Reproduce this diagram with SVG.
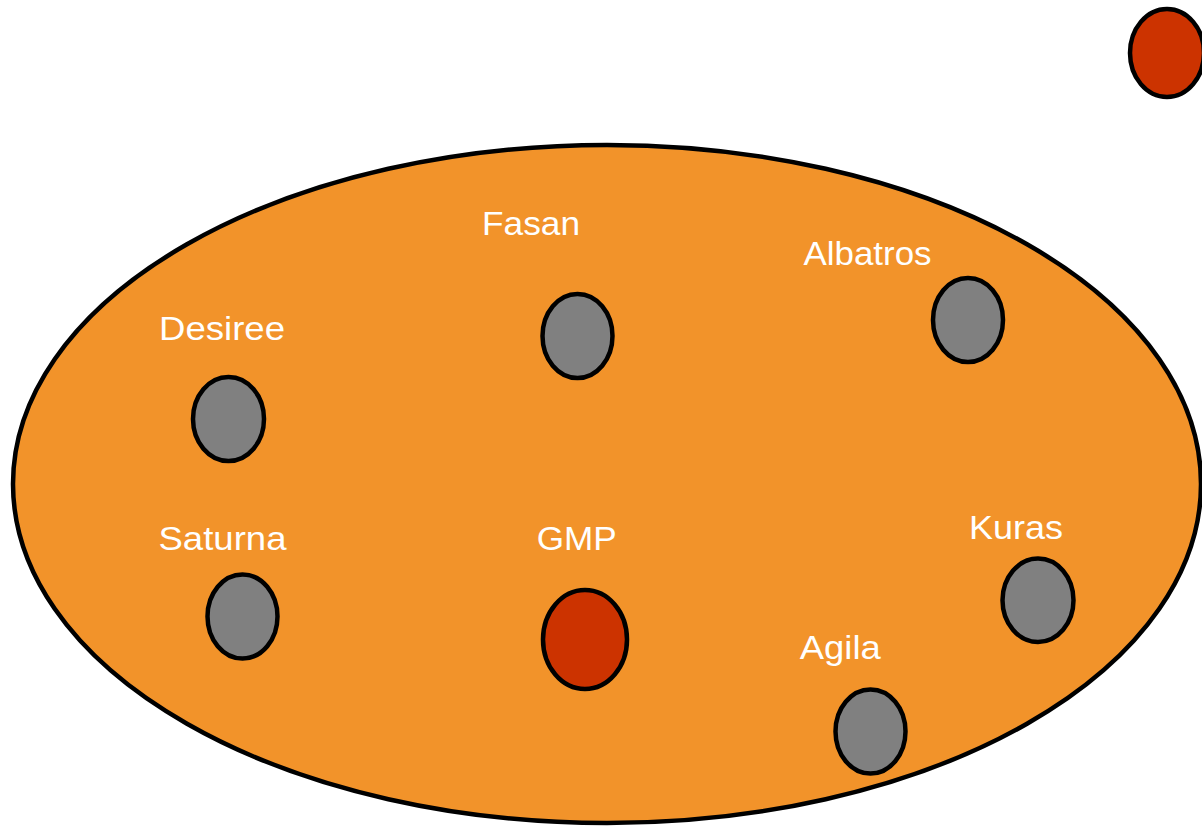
<svg xmlns="http://www.w3.org/2000/svg" width="1202" height="826" viewBox="0 0 1202 826">
<style>
.region{fill:#F2932A;stroke:#000;stroke-width:4.5}
.node{fill:#808080;stroke:#000;stroke-width:4.5}
.red{fill:#CC3300;stroke:#000;stroke-width:4.5}
.lbl{font-family:"Liberation Sans",Arial,sans-serif;font-size:33px;fill:#fff;text-anchor:middle}
</style>
<rect width="1202" height="826" fill="#fff"/>
<g id="region"><ellipse class="region" cx="607" cy="484" rx="594" ry="339"/></g>
<g id="outside"><ellipse class="red" cx="1167" cy="53" rx="37" ry="44"/></g>
<g id="connectors"></g>
<g id="fasan"><text class="lbl" x="531" y="235" textLength="98" lengthAdjust="spacingAndGlyphs">Fasan</text><ellipse class="node" cx="577.5" cy="336" rx="35" ry="42"/></g>
<g id="albatros"><text class="lbl" x="867.5" y="265" textLength="128" lengthAdjust="spacingAndGlyphs">Albatros</text><ellipse class="node" cx="968" cy="320" rx="35" ry="42"/></g>
<g id="desiree"><text class="lbl" x="222" y="340" textLength="126" lengthAdjust="spacingAndGlyphs">Desiree</text><ellipse class="node" cx="228.5" cy="419" rx="35.5" ry="42"/></g>
<g id="saturna"><text class="lbl" x="222.5" y="550" textLength="128" lengthAdjust="spacingAndGlyphs">Saturna</text><ellipse class="node" cx="242.5" cy="616.5" rx="35" ry="42"/></g>
<g id="gmp"><text class="lbl" x="576.7" y="550" textLength="80" lengthAdjust="spacingAndGlyphs">GMP</text><ellipse class="red" cx="585" cy="639.5" rx="42" ry="49.5"/></g>
<g id="kuras"><text class="lbl" x="1016" y="538.5" textLength="94" lengthAdjust="spacingAndGlyphs">Kuras</text><ellipse class="node" cx="1038" cy="600.3" rx="35.5" ry="41.7"/></g>
<g id="agila"><text class="lbl" x="840.3" y="658.5" textLength="81" lengthAdjust="spacingAndGlyphs">Agila</text><ellipse class="node" cx="870.5" cy="731.5" rx="35" ry="42"/></g>
</svg>
